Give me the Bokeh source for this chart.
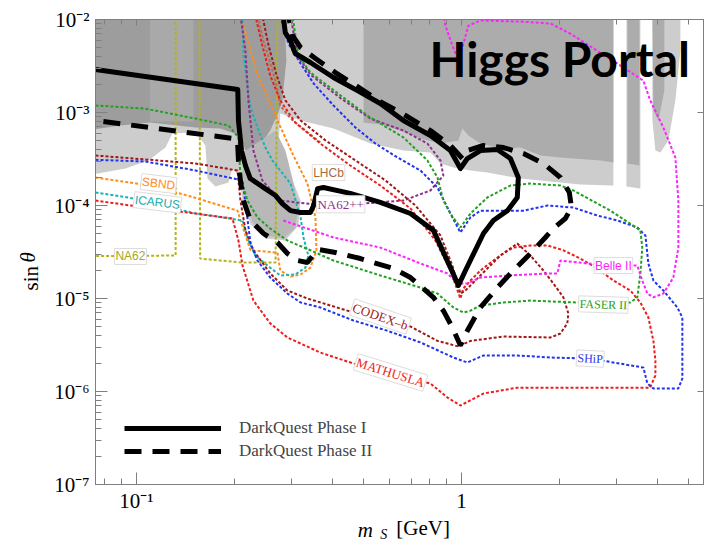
from bokeh.plotting import figure
from bokeh.models import (Range1d, FixedTicker, CustomJSTickFormatter, LogAxis,
                          Label, Legend, LegendItem)
from bokeh.embed import file_html
from bokeh.resources import INLINE

# ---------------- DarkQuest projections ----------------
phase1_m = [0.0748, 0.205, 0.206, 0.2105, 0.2165, 0.224, 0.249, 0.268, 0.281, 0.298, 0.32, 0.343,
            0.351, 0.361, 0.376, 0.455, 0.563, 0.697, 0.82, 0.925, 0.979, 1.029, 1.169, 1.254,
            1.385, 1.486, 1.497, 1.415, 1.29, 1.144, 1.043, 0.993, 0.925, 0.803, 0.663, 0.563,
            0.479, 0.404, 0.343, 0.308, 0.298, 0.287, 0.283]
phase1_sin = [2.9e-3, 1.77e-3, 8.2e-4, 3.9e-4, 2.69e-4, 1.95e-4, 1.52e-4, 1.28e-4, 1.05e-4, 8.8e-5,
              8.4e-5, 8.4e-5, 1.0e-4, 1.52e-4, 1.56e-4, 1.35e-4, 1.08e-4, 8.2e-5, 5.4e-5, 2.15e-5,
              1.38e-5, 2.0e-5, 5.0e-5, 6.9e-5, 8.8e-5, 1.22e-4, 2.0e-4, 3.2e-4, 4.0e-4, 3.9e-4,
              3.2e-4, 2.5e-4, 3.9e-4, 5.66e-4, 8.2e-4, 1.25e-3, 1.72e-3, 2.38e-3, 3.45e-3, 4.31e-3,
              5.9e-3, 7.24e-3, 1.1e-2]

phase2_m = [0.0791, 0.1988, 0.2046, 0.206, 0.2089, 0.2134, 0.2244, 0.246, 0.2716, 0.2915, 0.3129,
            0.3358, 0.351, 0.363, 0.4095, 0.4889, 0.6176, 0.697, 0.764, 0.82, 0.88, 0.938, 0.993,
            1.043, 1.144, 1.29, 1.445, 1.631, 1.813, 1.919, 2.089, 2.181, 2.149, 2.017, 1.788,
            1.552, 1.347, 1.169, 1.043, 1.007, 0.925, 0.803, 0.682, 0.563, 0.479, 0.4095, 0.3555,
            0.32, 0.302, 0.2936]
phase2_sin = [8.0e-4, 5.25e-4, 5.0e-4, 3.05e-4, 1.86e-4, 1.13e-4, 6.9e-5, 5.0e-5, 4.0e-5, 3.05e-5,
              2.56e-5, 2.44e-5, 2.97e-5, 3.36e-5, 3.12e-5, 2.69e-5, 2.1e-5, 1.68e-5, 1.28e-5, 1.03e-5,
              7.4e-6, 4.88e-6, 3.12e-6, 4.5e-6, 8.0e-6, 1.31e-5, 2.0e-5, 3.05e-5, 4.53e-5, 5.66e-5,
              7.25e-5, 9.5e-5, 1.38e-4, 2.0e-4, 2.83e-4, 3.62e-4, 4.2e-4, 4.42e-4, 3.9e-4, 3.2e-4,
              4.42e-4, 6.4e-4, 9.05e-4, 1.31e-3, 1.9e-3, 2.69e-3, 3.81e-3, 5.0e-3, 6.73e-3, 1.1e-2]

# ---------------- existing constraints (gray) ----------------
light_m = [0.07, 2.936, 2.936, 2.323, 1.879, 1.519, 1.347, 1.202, 1.066, 0.945, 0.862, 0.803, 0.663,
           0.525, 0.404, 0.32, 0.277, 0.2735, 0.298, 0.32, 0.315, 0.2873, 0.2494, 0.2244, 0.2134,
           0.206, 0.1974, 0.1919, 0.175, 0.1654, 0.163, 0.152, 0.129, 0.1228, 0.1089, 0.0925, 0.07]
light_sin = [0.012, 0.012, 1.64e-4, 1.68e-4, 1.81e-4, 1.95e-4, 2.1e-4, 2.26e-4, 2.38e-4, 2.56e-4,
             2.83e-4, 3.72e-4, 3.9e-4, 4.64e-4, 6.73e-4, 8.2e-4, 9.75e-4, 3.9e-4, 2.1e-4, 1.13e-4,
             6.1e-5, 4.2e-5, 4.42e-5, 6.25e-5, 1.0e-4, 2.1e-4, 2.5e-4, 1.77e-4, 1.6e-4, 1.95e-4,
             4.42e-4, 6.1e-4, 5.95e-4, 4.2e-4, 3.05e-4, 2.5e-4, 2.1e-4]
dark_m = [0.07, 0.2853, 0.2893, 0.281, 0.2735, 0.258, 0.2373, 0.2165, 0.2089, 0.181, 0.152, 0.110,
          0.0893, 0.07]
dark_sin = [0.012, 0.012, 3.62e-3, 1.35e-3, 1.0e-3, 6.4e-4, 4.1e-4, 3.9e-4, 5.66e-4, 6.73e-4,
            6.9e-4, 7.8e-4, 7.25e-4, 6.4e-4]
strip_m = [0.110, 0.1497, 0.1497, 0.110]
strip_sin = [0.012, 0.012, 8.0e-4, 8.0e-4]
lobe_m = [0.2165, 0.268, 0.2873, 0.302, 0.315, 0.308, 0.283, 0.2494, 0.2275, 0.2165, 0.212]
lobe_sin = [3.9e-4, 6.4e-4, 3.9e-4, 1.95e-4, 1.0e-4, 5.66e-5, 4.42e-5, 4.76e-5, 6.57e-5, 1.13e-4, 2.38e-4]
mid_m = [0.5, 2.936, 2.936, 2.68, 2.017, 1.75, 1.519, 1.318, 1.144, 1.051, 1.007, 0.979, 0.862,
         0.748, 0.649, 0.563, 0.5]
mid_sin = [0.012, 0.012, 2.9e-4, 3.05e-4, 3.28e-4, 3.45e-4, 4.2e-4, 4.1e-4, 4.64e-4, 5.66e-4,
           6.73e-4, 5.0e-4, 4.64e-4, 5.25e-4, 6.4e-4, 7.43e-4, 7.8e-4]
r1_light_m = [3.22, 3.555, 3.555, 3.22]
r1_light_sin = [0.012, 0.012, 1.52e-4, 1.6e-4]
r1_mid_m = [3.243, 3.53, 3.53, 3.243]
r1_mid_sin = [0.012, 0.012, 2.69e-4, 2.83e-4]
r2_light_m = [3.871, 4.72, 4.72, 4.555, 4.335, 4.097, 3.954, 3.871]
r2_light_sin = [0.012, 0.012, 4.6e-3, 1.35e-3, 5.0e-4, 3.72e-4, 3.9e-4, 8.2e-4]
r2_mid_m = [3.871, 4.213, 4.213, 4.04, 3.898]
r2_mid_sin = [0.012, 0.012, 1.72e-3, 8.2e-4, 1.05e-3]

# ---------------- other experiments ----------------
na62_a_m = [0.07, 0.132, 0.132]
na62_a_sin = [2.85e-5, 2.9e-5, 0.012]
na62_b_m = [0.1563, 0.157, 0.209, 0.268, 0.2716]
na62_b_sin = [0.012, 2.69e-5, 2.44e-5, 2.44e-5, 0.012]

sbnd_m = [0.0748, 0.110, 0.147, 0.2046, 0.2165, 0.2244, 0.2716, 0.277, 0.298, 0.32, 0.343, 0.358,
          0.3555, 0.3358, 0.304, 0.2716, 0.2373, 0.2089]
sbnd_sin = [2.0e-4, 1.64e-4, 1.25e-4, 8.8e-5, 4.76e-5, 3.3e-5, 3.12e-5, 2.0e-5, 1.72e-5, 1.81e-5,
            2.15e-5, 3.3e-5, 7.43e-5, 1.72e-4, 3.45e-4, 8.2e-4, 2.38e-3, 1.1e-2]

icarus_m = [0.0748, 0.0945, 0.152, 0.212, 0.221, 0.2323, 0.253, 0.277, 0.308, 0.331, 0.338, 0.3266,
            0.32, 0.298, 0.277, 0.262, 0.2494, 0.2357, 0.2244, 0.2196, 0.2134, 0.212]
icarus_sin = [1.38e-4, 1.22e-4, 8.2e-5, 6.9e-5, 4.2e-5, 2.9e-5, 2.26e-5, 1.77e-5, 1.81e-5, 2.15e-5,
              2.9e-5, 4.53e-5, 7.43e-5, 1.72e-4, 2.38e-4, 3.05e-4, 4.2e-4, 6.9e-4, 1.13e-3, 1.86e-3,
              4.31e-3, 1.1e-2]

mathusla_m = [0.0748, 0.1066, 0.152, 0.1974, 0.206, 0.212, 0.229, 0.258, 0.2915, 0.368, 0.4653,
              0.803, 0.906, 0.993, 1.169, 1.486, 2.374, 3.81, 3.954, 3.954, 3.898, 3.762, 3.555,
              3.31, 2.936, 2.62, 2.32, 2.06, 1.84, 1.631, 1.445, 1.347, 1.254, 1.144, 1.066, 1.014,
              0.993, 0.925, 0.832, 0.697, 0.563, 0.455, 0.368, 0.308, 0.277, 0.258, 0.244, 0.2323]
mathusla_sin = [1.13e-4, 9.5e-5, 8.2e-5, 7.25e-5, 4.2e-5, 2.26e-5, 9.5e-6, 5.4e-6, 3.81e-6, 2.62e-6,
                2.0e-6, 1.22e-6, 8.6e-7, 7.07e-7, 9.5e-7, 1.1e-6, 1.1e-6, 1.1e-6, 1.49e-6, 2.15e-6,
                3.5e-6, 6.25e-6, 9.05e-6, 1.22e-5, 1.56e-5, 2.1e-5, 2.69e-5, 3.3e-5, 3.72e-5, 3.72e-5,
                3.53e-5, 3.05e-5, 2.56e-5, 2.0e-5, 1.56e-5, 1.28e-5, 1.0e-5, 2.0e-5, 4.2e-5, 9.3e-5,
                1.64e-4, 2.69e-4, 4.64e-4, 7.8e-4, 1.35e-3, 2.5e-3, 5.25e-3, 1.1e-2]

codexb_m = [0.0748, 0.152, 0.2046, 0.2089, 0.2165, 0.229, 0.258, 0.2915, 0.3358, 0.4653, 0.687,
            0.844, 0.979, 1.066, 1.347, 1.879, 2.017, 2.118, 2.134, 2.06, 1.919, 1.788, 1.631,
            1.486, 1.318, 1.144, 1.029, 0.993, 0.938, 0.862, 0.722, 0.584, 0.472, 0.382, 0.32,
            0.2873, 0.27, 0.255, 0.244]
codexb_sin = [3.45e-4, 2.83e-4, 2.38e-4, 1.13e-4, 5.4e-5, 3.3e-5, 1.86e-5, 1.22e-5, 1.0e-5, 7.07e-6,
              5.13e-6, 3.5e-6, 3.05e-6, 3.5e-6, 3.9e-6, 3.81e-6, 4.2e-6, 5.4e-6, 6.9e-6, 1.03e-5,
              1.45e-5, 2.0e-5, 2.9e-5, 3.9e-5, 2.9e-5, 1.77e-5, 1.22e-5, 1.13e-5, 2.26e-5, 4.76e-5,
              1.0e-4, 1.86e-4, 3.05e-4, 5.0e-4, 8.2e-4, 1.35e-3, 2.5e-3, 5.25e-3, 1.1e-2]

ship_m = [0.0748, 0.1066, 0.152, 0.212, 0.218, 0.2244, 0.2357, 0.258, 0.2915, 0.32, 0.368, 0.4653,
          0.592, 0.748, 0.945, 1.043, 1.169, 1.486, 1.879, 2.49, 3.631, 3.735, 3.898, 4.653, 4.786,
          4.786, 4.62, 4.183, 3.898, 3.762, 3.684, 3.479, 3.02, 2.62, 2.212, 1.84, 1.552, 1.29,
          1.144, 1.066, 0.993, 0.925, 0.844, 0.748, 0.636, 0.5435, 0.472, 0.404, 0.351, 0.32,
          0.2936, 0.277]
ship_sin = [3.1e-4, 2.97e-4, 2.38e-4, 1.86e-4, 8.8e-5, 3.9e-5, 2.56e-5, 1.68e-5, 1.13e-5, 9.05e-6,
            8.0e-6, 5.8e-6, 4.5e-6, 3.37e-6, 2.32e-6, 2.05e-6, 2.44e-6, 2.44e-6, 2.32e-6, 2.26e-6,
            1.81e-6, 1.22e-6, 1.08e-6, 1.08e-6, 1.38e-6, 6.25e-6, 8.0e-6, 1.22e-5, 1.56e-5, 2.38e-5,
            4.76e-5, 5.8e-5, 6.9e-5, 7.8e-5, 9.5e-5, 1.0e-4, 8.8e-5, 8.8e-5, 8.8e-5, 7.43e-5,
            5.13e-5, 8.2e-5, 1.56e-4, 2.38e-4, 3.28e-4, 4.64e-4, 6.9e-4, 1.19e-3, 2.05e-3, 3.36e-3,
            5.5e-3, 1.1e-2]

faser2_m = [0.0748, 0.1066, 0.152, 0.1919, 0.206, 0.2089, 0.2196, 0.2357, 0.258, 0.2915, 0.343,
            0.404, 0.563, 0.748, 0.844, 0.945, 1.014, 1.066, 1.144, 1.347, 1.631, 2.274, 3.31,
            3.479, 3.555, 3.603, 3.555, 2.874, 2.212, 2.017, 1.631, 1.415, 1.202, 1.066, 0.993,
            0.925, 0.88, 0.844, 0.786, 0.663, 0.525, 0.425, 0.343, 0.315, 0.302]
faser2_sin = [1.19e-3, 1.1e-3, 8.6e-4, 7.25e-4, 5.4e-4, 2.0e-4, 1.13e-4, 7.43e-5, 5.66e-5, 4.2e-5,
              3.3e-5, 2.56e-5, 1.77e-5, 1.31e-5, 1.13e-5, 8.0e-6, 7.07e-6, 7.4e-6, 8.4e-6, 9.05e-6,
              9.5e-6, 9.05e-6, 9.05e-6, 1.03e-5, 1.86e-5, 3.53e-5, 5.4e-5, 8.8e-5, 1.45e-4, 1.64e-4,
              1.72e-4, 1.64e-4, 1.22e-4, 8.2e-5, 5.8e-5, 8.2e-5, 1.13e-4, 2.0e-4, 3.05e-4, 5.4e-4,
              8.8e-4, 1.52e-3, 2.69e-3, 4.1e-3, 1.1e-2]

na62pp_m = [0.2089, 0.2165, 0.221, 0.229, 0.244, 0.277, 0.351, 0.5, 0.663, 0.803, 0.88, 0.862,
            0.786, 0.663, 0.525, 0.425, 0.343, 0.3129, 0.298]
na62pp_sin = [1.1e-2, 4.6e-3, 1.35e-3, 3.9e-4, 1.86e-4, 1.13e-4, 1.03e-4, 1.05e-4, 1.13e-4, 1.45e-4,
              2.1e-4, 3.05e-4, 4.64e-4, 6.4e-4, 8.6e-4, 1.42e-3, 2.56e-3, 4.1e-3, 1.1e-2]

belle2_m = [0.283, 0.404, 0.563, 0.748, 0.906, 0.972, 1.043, 1.144, 1.415, 1.879, 1.974, 2.017,
            2.442, 3.479, 3.603, 3.735, 3.898, 4.183, 4.49, 4.653, 4.653, 4.555, 4.183, 3.81, 3.631,
            3.151, 2.62, 2.16, 1.879, 1.519, 1.144, 1.051, 1.014, 0.979, 0.938, 0.893, 0.88]
belle2_sin = [6.9e-5, 4.53e-5, 3.53e-5, 2.38e-5, 1.86e-5, 1.45e-5, 1.45e-5, 1.68e-5, 1.77e-5, 1.86e-5,
              1.86e-5, 2.56e-5, 2.38e-5, 2.26e-5, 1.56e-5, 1.13e-5, 1.03e-5, 1.13e-5, 1.68e-5, 3.53e-5,
              1.13e-4, 3.28e-4, 6.9e-4, 1.35e-3, 2.2e-3, 3.05e-3, 4.6e-3, 7.07e-3, 9.06e-3, 9.5e-3,
              9.75e-3, 8.6e-3, 5.5e-3, 3.62e-3, 5.25e-3, 8.6e-3, 1.1e-2]

lhcb_m = [0.2357, 0.246, 0.258, 0.27, 0.277, 0.298, 0.331, 0.368]
lhcb_sin = [1.1e-2, 5.9e-3, 3.45e-3, 1.95e-3, 1.19e-3, 8.6e-4, 6.4e-4, 4.75e-4]

# curve labels
label_text = ["NA62", "SBND", "ICARUS", "LHCb", "NA62++", "Belle II", "FASER II", "CODEX\u2013b",
              "SHiP", "MATHUSLA"]
label_m = [0.0958, 0.117, 0.116, 0.39, 0.425, 2.936, 2.735, 0.563, 2.49, 0.605]
label_sin = [2.83e-5, 1.72e-4, 1.08e-4, 2.26e-4, 1.03e-4, 2.26e-5, 8.6e-6, 6.4e-6, 2.26e-6, 1.6e-6]

# axis ticks
x_major = [0.1, 1.0]
x_minor = [0.08, 0.09, 0.2, 0.3, 0.4, 0.5, 0.6, 0.7, 0.8, 0.9, 2.0, 3.0, 4.0, 5.0]
y_major = [1e-7, 1e-6, 1e-5, 1e-4, 1e-3, 1e-2]
y_minor = [k * 10.0 ** e for e in range(-7, -2) for k in range(2, 10)]

# ---------------- figure ----------------
p = figure(width=706, height=544, x_axis_type="log", y_axis_type="log",
           x_range=Range1d(0.0748, 5.56), y_range=Range1d(1e-7, 1e-2),
           output_backend="svg", toolbar_location=None,
           min_border_left=95, min_border_right=3, min_border_top=19, min_border_bottom=60)
p.xgrid.visible = False
p.ygrid.visible = False
AX = "#7f7f7f"
p.outline_line_color = AX

gray_layers = [
    (light_m, light_sin, "#cdcdcd"),
    (r1_light_m, r1_light_sin, "#cdcdcd"),
    (r2_light_m, r2_light_sin, "#cdcdcd"),
    (dark_m, dark_sin, "#9d9d9d"),
    (strip_m, strip_sin, "#a9a9a9"),
    (lobe_m, lobe_sin, "#b8b8b8"),
    (mid_m, mid_sin, "#acacac"),
    (r1_mid_m, r1_mid_sin, "#acacac"),
    (r2_mid_m, r2_mid_sin, "#acacac"),
]
for xs, ys, c in gray_layers:
    p.patch(xs, ys, fill_color=c, line_color=None)

DOT = "3 2"
curves = [
    (na62_a_m, na62_a_sin, "#b3b31a"),
    (na62_b_m, na62_b_sin, "#b3b31a"),
    (lhcb_m, lhcb_sin, "#bf6a50"),
    (sbnd_m, sbnd_sin, "#ff8c1a"),
    (icarus_m, icarus_sin, "#1ab3b3"),
    (na62pp_m, na62pp_sin, "#8e2f8e"),
    (mathusla_m, mathusla_sin, "#ee1c1c"),
    (codexb_m, codexb_sin, "#a01818"),
    (ship_m, ship_sin, "#2233ee"),
    (faser2_m, faser2_sin, "#22a022"),
    (belle2_m, belle2_sin, "#ff22ff"),
]
for xs, ys, c in curves:
    p.line(xs, ys, line_color=c, line_width=2, line_dash=DOT)

label_font = ["Liberation Sans", "Liberation Sans", "Liberation Sans", "Liberation Sans",
              "Liberation Serif", "Liberation Sans", "Liberation Serif", "Liberation Serif",
              "Liberation Serif", "Liberation Serif"]
label_color = ["#a8a81a", "#ff8c1a", "#1aabab", "#a86a3a", "#8e2f8e", "#ff22ff", "#22a022",
               "#a01818", "#2233ee", "#ee1c1c"]
label_angle = [0, -0.12, -0.12, 0, 0, 0, -0.03, -0.33, -0.05, -0.30]
label_size = ["12px", "12px", "12px", "12px", "13px", "12px", "12px", "13px", "12px", "13px"]
for t, m, s, f, c, a, fs in zip(label_text, label_m, label_sin, label_font, label_color,
                                label_angle, label_size):
    p.add_layout(Label(x=m, y=s, text=t, text_align="center", text_baseline="middle",
                       angle=a, text_font=f, text_font_size=fs, text_color=c,
                       background_fill_color="white", background_fill_alpha=1.0,
                       border_line_color="#dddddd", padding=1))

r1 = p.line(phase1_m, phase1_sin, line_color="black", line_width=5, line_join="round")
r2 = p.line(phase2_m, phase2_sin, line_color="black", line_width=5, line_dash="17 11")

# ---------------- axes ----------------
fmt_code = r"""
const e = Math.round(Math.log10(tick));
if (e === 0) { return "1"; }
const sup = {"-": "\u207b", "0": "\u2070", "1": "\u00b9", "2": "\u00b2", "3": "\u00b3",
             "4": "\u2074", "5": "\u2075", "6": "\u2076", "7": "\u2077", "8": "\u2078", "9": "\u2079"};
let s = "";
for (const c of String(e)) { s += sup[c]; }
return "10" + s;
"""
SERIF = "Liberation Serif"
NB = "\u00a0"
xa = p.xaxis[0]
ya = p.yaxis[0]
xa.ticker = FixedTicker(ticks=x_major, minor_ticks=x_minor)
ya.ticker = FixedTicker(ticks=y_major, minor_ticks=y_minor)
for ax in (xa, ya):
    ax.formatter = CustomJSTickFormatter(code=fmt_code)
    ax.axis_line_color = AX
    ax.major_tick_line_color = AX
    ax.minor_tick_line_color = AX
    ax.major_tick_in = 12
    ax.major_tick_out = 0
    ax.minor_tick_in = 6
    ax.minor_tick_out = 0
    ax.major_label_text_font = SERIF
    ax.major_label_text_font_size = "21px"
    ax.major_label_text_color = "black"
    ax.axis_label_text_font = SERIF
    ax.axis_label_text_font_size = "21px"
    ax.axis_label_text_color = "black"
xa.major_label_standoff = 4
ya.major_label_standoff = 6

# x title pieces (italic m, subscript S, upright [GeV]) all centred on the frame
xa.axis_label = "m" + NB * 13
xa.axis_label_text_font_style = "italic"
xa.axis_label_standoff = 2
ya.axis_label = "sin" + NB * 10
ya.axis_label_text_font_style = "normal"
ya.axis_label_standoff = 8


def title_axis(text, standoff, size, style):
    return LogAxis(ticker=FixedTicker(ticks=[], minor_ticks=[]), axis_label=text,
                   axis_label_standoff=standoff, axis_label_text_font=SERIF,
                   axis_label_text_font_size=size, axis_label_text_font_style=style,
                   axis_label_text_color="black", axis_line_color=None,
                   major_tick_line_color=None, minor_tick_line_color=None,
                   major_label_text_font_size="0px")


p.add_layout(title_axis("S" + NB * 9, -18, "14px", "italic"), "below")
p.add_layout(title_axis(NB * 9 + "[GeV]", -29, "21px", "normal"), "below")
p.add_layout(title_axis("\u03b8" + NB * 2, -23, "21px", "italic"), "left")

top = LogAxis(ticker=FixedTicker(ticks=x_major, minor_ticks=x_minor),
              formatter=CustomJSTickFormatter(code="return '';"),
              major_label_text_font_size="0px", major_label_standoff=0,
              axis_line_color=AX, major_tick_line_color=AX, minor_tick_line_color=AX,
              major_tick_in=6, major_tick_out=0, minor_tick_in=5, minor_tick_out=0)
right = LogAxis(ticker=FixedTicker(ticks=y_major, minor_ticks=[]),
                formatter=CustomJSTickFormatter(code="return '';"),
                major_label_text_font_size="0px", major_label_standoff=0,
                axis_line_color=AX, major_tick_line_color=AX,
                major_tick_in=6, major_tick_out=0, minor_tick_in=0, minor_tick_out=0)
p.add_layout(top, "above")
p.add_layout(right, "right")

# title text
p.add_layout(Label(x=334, y=426, x_units="screen", y_units="screen", text="Higgs Portal",
                   text_font="Lato", text_font_style="bold", text_font_size="48px",
                   text_baseline="alphabetic", text_color="black"))

legend = Legend(items=[LegendItem(label="DarkQuest Phase I", renderers=[r1]),
                       LegendItem(label="DarkQuest Phase II", renderers=[r2])],
                location=(29, 23), orientation="vertical", padding=0, spacing=3, margin=0,
                glyph_width=97, glyph_height=20, label_height=20, label_standoff=18,
                label_text_font=SERIF, label_text_font_size="17px",
                background_fill_alpha=0, border_line_alpha=0)
p.add_layout(legend)

open("out.html", "w").write(file_html(p, INLINE))
